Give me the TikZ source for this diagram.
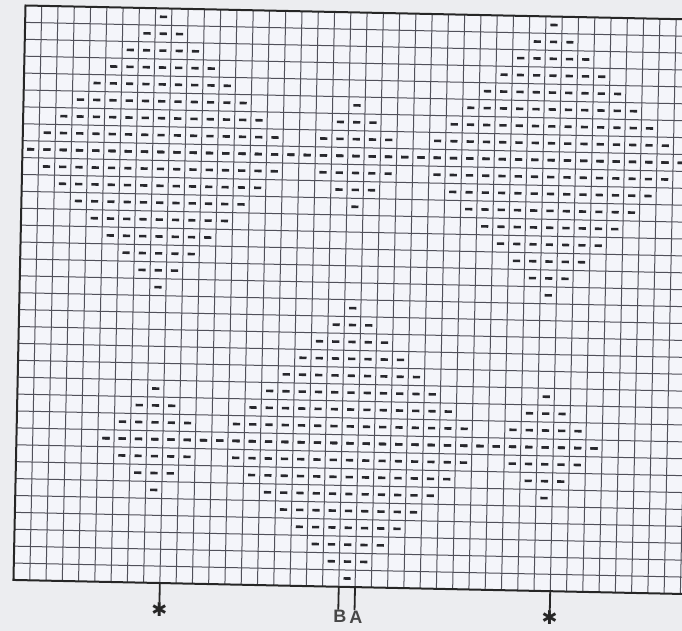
\documentclass[tikz,border=0pt]{standalone}
\usepackage{fontspec}
\setsansfont{Liberation Sans}
\newfontfamily\symfont{DejaVu Sans}
\usepackage{xcolor}
\definecolor{chartline}{RGB}{80,80,90}
\definecolor{chartbg}{RGB}{244,245,250}
\definecolor{pagebg}{RGB}{236,237,240}
\definecolor{purlink}{RGB}{40,40,45}

\newcommand{\cw}{16.27}
\newcommand{\rh}{16.9}

% one row of purl dashes: row, first col, last col
\newcommand{\purlrow}[3]{%
  \foreach \cc in {#2,...,#3}
    \draw[purl] ({(\cc-0.5)*\cw-3.6},{(#1-0.5)*\rh}) -- ++(7.2,0);}

% solid diamond of dashes: centre col, centre row, radius
\newcommand{\purldiamond}[3]{%
  \foreach \dy in {-#3,...,#3}{%
    \pgfmathtruncatemacro{\purlrowno}{#2+\dy}
    \pgfmathtruncatemacro{\purllo}{#1-#3+abs(\dy)}
    \pgfmathtruncatemacro{\purlhi}{#1+#3-abs(\dy)}
    \purlrow{\purlrowno}{\purllo}{\purlhi}}}

\begin{document}
\begin{tikzpicture}[x=1pt, y=-1pt,
    gridline/.style={draw=chartline, line width=1pt},
    chartborder/.style={draw=black!85, line width=2pt},
    purl/.style={draw=purlink, line width=2.6pt},
    repeatmark/.style={draw=black!85, line width=1.8pt},
    repeatstar/.style={font=\symfont\fontsize{19}{19}\selectfont, text=black!85, inner sep=0pt},
    repeatlbl/.style={font=\sffamily\bfseries\fontsize{18}{18}\selectfont, text=black!72, inner sep=0.5pt}
]
\clip (0,0) rectangle (682,631);
\fill[pagebg] (0,0) rectangle (682,631);

\begin{scope}[shift={(25.5,5.5)}, rotate=-1.2]
  % chart grid
  \fill[chartbg] (0,0) rectangle (42*\cw,34*\rh);
  \foreach \k in {1,...,41} \draw[gridline] (\k*\cw,0) -- (\k*\cw,34*\rh);
  \foreach \k in {1,...,33} \draw[gridline] (0,\k*\rh) -- (42*\cw,\k*\rh);
  \draw[chartborder] (42*\cw,0) -- (0,0) -- (0,34*\rh) -- (42*\cw,34*\rh);

  % purl diamonds
  \purldiamond{9}{9}{8}
  \purldiamond{21}{9}{3}
  \purldiamond{33}{9}{8}
  \purldiamond{9}{26}{3}
  \purldiamond{21}{26}{8}
  \purldiamond{33}{26}{3}
  \purlrow{9}{1}{41}
  \purlrow{26}{6}{36}

  % repeat markers
  \coordinate (rep1) at (146.43,574.6);
  \coordinate (rep2) at (536.91,574.6);
  \coordinate (repB) at (325.4,574.6);
  \coordinate (repA) at (341.67,574.6);
  \node[repeatstar] (star1) at (146.43,601) {✱};
  \node[repeatstar] (star2) at (536.91,601) {✱};
  \node[repeatlbl] (lblB) at (327,604.5) {B};
  \node[repeatlbl] (lblA) at (343,604.5) {A};
  \draw[repeatmark] (rep1) -- (star1);
  \draw[repeatmark] (rep2) -- (star2);
  \draw[repeatmark] (repB) -- (repB |- lblB.north);
  \draw[repeatmark] (repA) -- (repA |- lblA.north);
\end{scope}
\end{tikzpicture}
\end{document}
